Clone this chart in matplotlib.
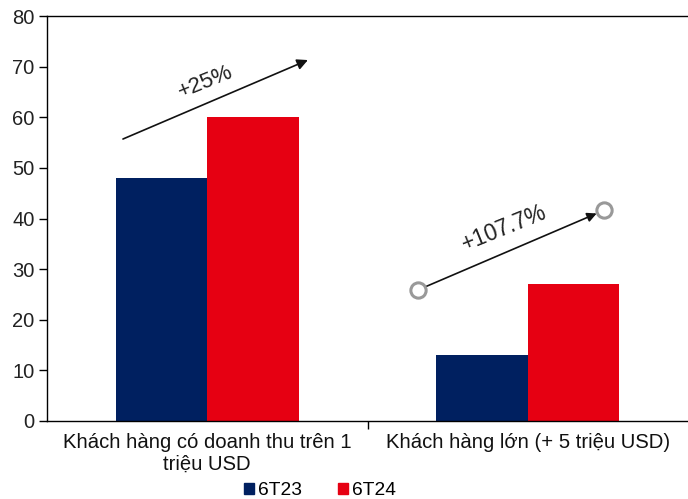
import numpy as np
import matplotlib.pyplot as plt
from matplotlib.patches import Patch

plt.rcParams['font.family'] = ['Liberation Sans', 'DejaVu Sans']

categories = ['Khách hàng có doanh thu trên 1\ntriệu USD',
              'Khách hàng lớn (+ 5 triệu USD)']
series_names = ['6T23', '6T24']
v_6t23 = [48, 13]
v_6t24 = [60, 27]
growth_labels = ['+25%', '+107.7%']

navy = '#002060'
red = '#E60012'

fig = plt.figure(figsize=(6.88, 4.99), dpi=100)
ax = fig.add_axes([47 / 688, 78 / 499, 641 / 688, 405 / 499])

x = np.arange(len(categories))
w = 0.285
ax.bar(x - w / 2, v_6t23, width=w, color=navy)
ax.bar(x + w / 2, v_6t24, width=w, color=red)

ax.set_xlim(-0.5, 1.5)
ax.set_ylim(0, 80)
ax.set_yticks(range(0, 81, 10))
ax.set_xticks([0.5])
ax.set_xticklabels([])
ax.tick_params(axis='both', direction='out', length=6, width=1, colors='black',
               labelsize=14.5, labelcolor='#222222')
ax.tick_params(axis='y', pad=3)

for s in ['left', 'bottom', 'top']:
    ax.spines[s].set_linewidth(1)
    ax.spines[s].set_color('black')
ax.spines['right'].set_visible(False)

# category labels under each group
for i, lab in enumerate(categories):
    ax.text(i, -2.4, lab, ha='center', va='top', fontsize=14.6, color='#111111',
            linespacing=1.17)

# growth arrows
ax.annotate('', xy=(0.314, 71.3), xytext=(-0.263, 55.7),
            arrowprops=dict(arrowstyle='-|>', color='#111111', lw=1.2,
                            mutation_scale=16, shrinkA=0, shrinkB=0))
ax.text(-0.005, 66.9, growth_labels[0], rotation=22, ha='center', va='center',
        fontsize=16, color='#222222')

ax.annotate('', xy=(1.215, 41.0), xytext=(0.658, 25.9),
            arrowprops=dict(arrowstyle='-|>', color='#111111', lw=1.2,
                            mutation_scale=14, shrinkA=4, shrinkB=0))
ax.plot([0.658, 1.238], [25.9, 41.7], linestyle='none', marker='o',
        markersize=11, markerfacecolor='white', markeredgecolor='#999999',
        markeredgewidth=2.2, clip_on=False, zorder=5)
ax.text(0.927, 38.1, growth_labels[1], rotation=22, ha='center', va='center',
        fontsize=16.3, color='#222222')

handles = [Patch(color=navy), Patch(color=red)]
fig.legend(handles, series_names, loc='lower center', ncol=2, frameon=False,
           bbox_to_anchor=(320 / 688, -0.035), fontsize=13.8, handlelength=0.5,
           handleheight=0.5, handletextpad=0.2, columnspacing=1.9)

fig.savefig('out.png', dpi=100)
